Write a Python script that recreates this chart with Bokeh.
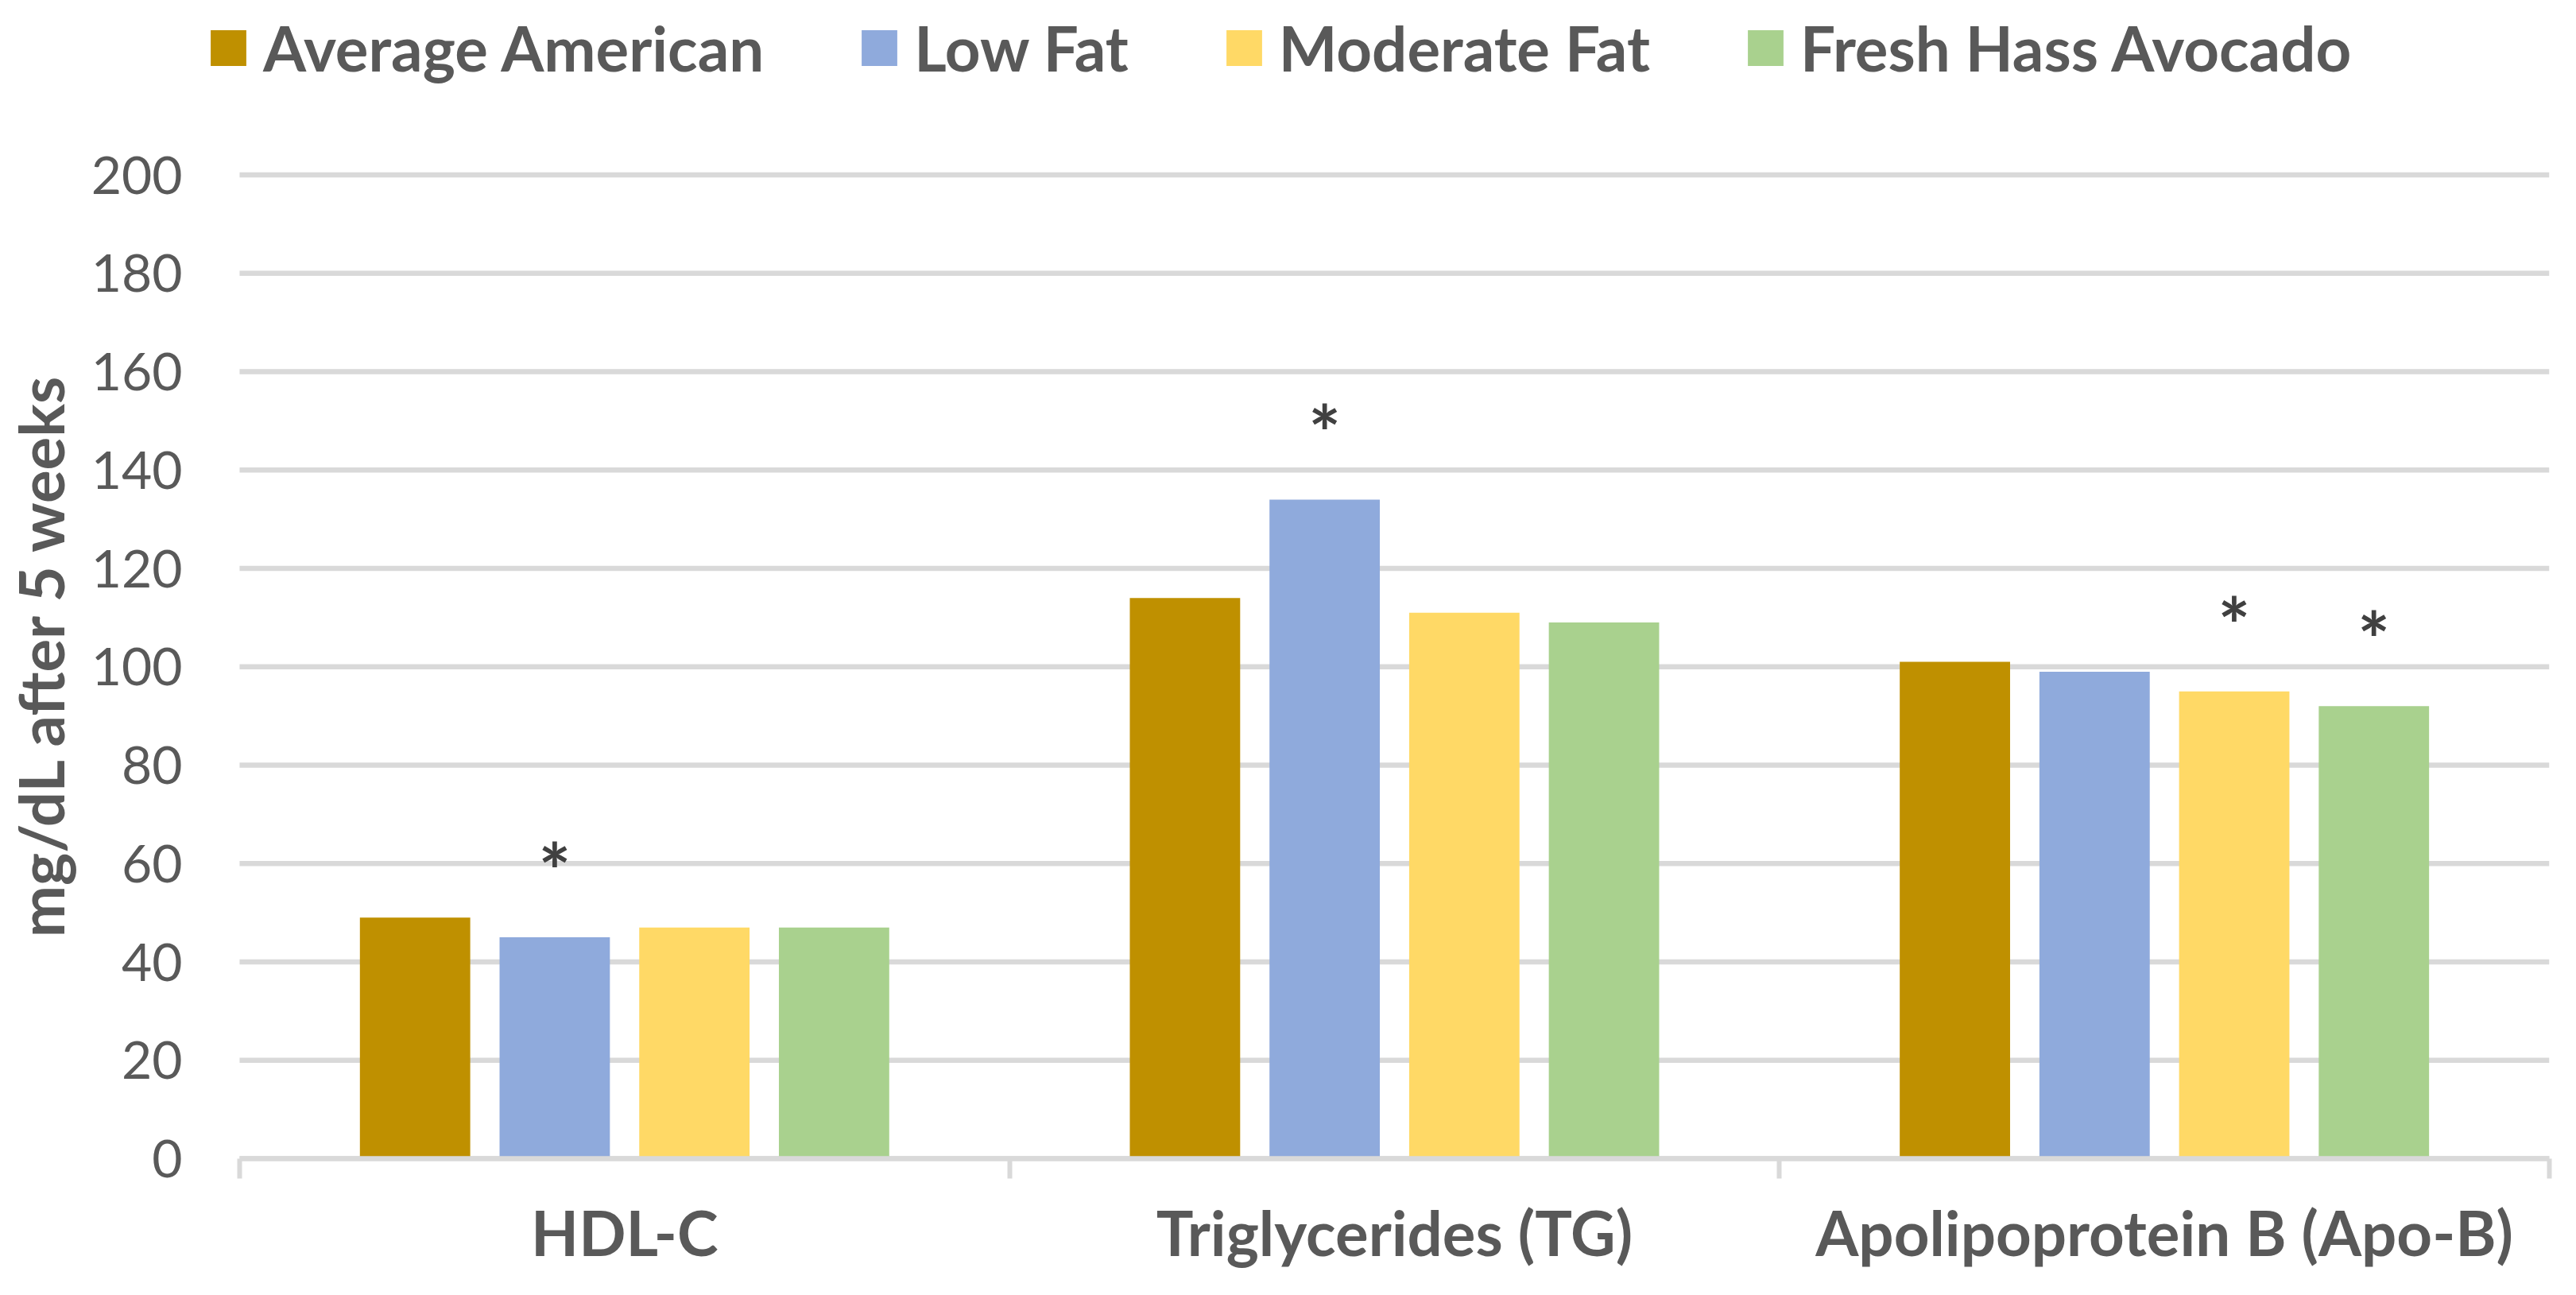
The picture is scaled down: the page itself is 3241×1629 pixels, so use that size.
from bokeh.plotting import figure
from bokeh.models import (Range1d, FixedTicker, Legend, LegendItem, CustomJSTickFormatter)
from bokeh.core.properties import value
from bokeh.embed import file_html
from bokeh.resources import INLINE

# ---------------- data ----------------
categories = ["HDL-C", "Triglycerides (TG)", "Apolipoprotein B (Apo-B)"]
series_names = ["Average American", "Low Fat", "Moderate Fat", "Fresh Hass Avocado"]
average_american = [49, 114, 101]
low_fat = [45, 134, 99]
moderate_fat = [47, 111, 95]
fresh_hass_avocado = [47, 109, 92]
# significance markers (*)
sig_average_american = [False, False, False]
sig_low_fat = [True, True, False]
sig_moderate_fat = [False, False, True]
sig_fresh_hass_avocado = [False, False, True]
y_ticks = [0, 20, 40, 60, 80, 100, 120, 140, 160, 180, 200]
y_axis_title = "mg/dL after 5 weeks"

# ---------------- style ----------------
colors = ["#BF9000", "#8FAADC", "#FFD966", "#A9D18E"]
GRID = "#D9D9D9"
TEXT = "#595959"
FONT = "Lato"
series_values = [average_american, low_fat, moderate_fat, fresh_hass_avocado]
series_sig = [sig_average_american, sig_low_fat, sig_moderate_fat, sig_fresh_hass_avocado]
pitch = 0.1814
bar_w = 0.1433
offsets = [-1.5 * pitch, -0.5 * pitch, 0.5 * pitch, 1.5 * pitch]
n = len(categories)
y_max = max(y_ticks)

# The frame is widened to the left and up so that the legend can sit inside it.
X_PAD = 36 / 970.0
Y_TOP = y_max * 1447.0 / 1229.0

p = figure(width=3225, height=1613, output_backend="svg", toolbar_location=None,
           x_range=Range1d(-X_PAD, n), y_range=Range1d(0, Y_TOP),
           min_border_left=261, min_border_right=18, min_border_top=0,
           min_border_bottom=156)
p.outline_line_color = None
p.background_fill_color = "white"
p.border_fill_color = "white"
p.xgrid.visible = False
p.ygrid.visible = False

# horizontal gridlines spanning the category area only
p.segment(x0=[0] * len(y_ticks), x1=[n] * len(y_ticks), y0=y_ticks, y1=y_ticks,
          line_color=GRID, line_width=6.5, level="underlay")

# x axis
p.xaxis.bounds = (0, n)
p.xaxis.ticker = FixedTicker(ticks=[i + 0.5 for i in range(n)],
                             minor_ticks=list(range(n + 1)))
p.xaxis.formatter = CustomJSTickFormatter(args=dict(labels=categories),
                                          code="return labels[Math.floor(tick)];")
p.xaxis.axis_line_color = GRID
p.xaxis.axis_line_width = 6.5
p.xaxis.major_tick_out = 0
p.xaxis.major_tick_in = 0
p.xaxis.minor_tick_out = 25
p.xaxis.minor_tick_in = 0
p.xaxis.minor_tick_line_color = GRID
p.xaxis.minor_tick_line_width = 6
p.xaxis.major_label_text_font = FONT
p.xaxis.major_label_text_font_style = "bold"
p.xaxis.major_label_text_font_size = "78px"
p.xaxis.major_label_text_color = TEXT
p.xaxis.major_label_standoff = 20

# y axis
p.yaxis.bounds = (0, y_max)
p.yaxis.ticker = FixedTicker(ticks=y_ticks)
p.yaxis.axis_line_color = None
p.yaxis.major_tick_out = 0
p.yaxis.major_tick_in = 0
p.yaxis.minor_tick_line_color = None
p.yaxis.major_label_text_font = FONT
p.yaxis.major_label_text_font_size = "66px"
p.yaxis.major_label_text_color = TEXT
p.yaxis.major_label_standoff = 36
# trailing no-break spaces keep the title centred on the 0-200 span, not the whole frame
p.yaxis.axis_label = y_axis_title + "\u00a0" * 10
p.yaxis.axis_label_text_font = FONT
p.yaxis.axis_label_text_font_style = "bold"
p.yaxis.axis_label_text_font_size = "78px"
p.yaxis.axis_label_text_color = TEXT
p.yaxis.axis_label_standoff = 14

items = []
for name, vals, sig, col, off in zip(series_names, series_values, series_sig, colors, offsets):
    xs = [i + 0.5 + off for i in range(n)]
    r = p.vbar(x=xs, top=vals, width=bar_w, bottom=0, fill_color=col, line_color=None)
    items.append(LegendItem(label=name, renderers=[r]))
    sx = [x for x, s in zip(xs, sig) if s]
    sy = [v + 13.8 for v, s in zip(vals, sig) if s]
    if sx:
        p.text(x=sx, y=sy, text=["*"] * len(sx), text_align="center",
               text_baseline="alphabetic", text_font=value(FONT),
               text_font_style="bold", text_font_size="96px", text_color="#404040")

legend = Legend(items=items, orientation="horizontal", location=(-6, 1350),
                glyph_width=56, glyph_height=56, label_standoff=16, spacing=117,
                padding=0, margin=0, border_line_color=None, background_fill_alpha=0,
                label_text_font=FONT, label_text_font_style="bold",
                label_text_font_size="78px", label_text_color=TEXT)
p.add_layout(legend, "center")

open("out.html", "w").write(file_html(p, INLINE))
